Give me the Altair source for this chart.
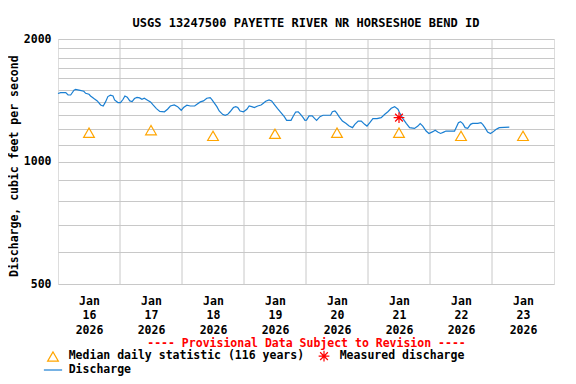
import altair as alt
import pandas as pd

# ---- data ----
hours = [0, 1, 3, 3.9, 4.9, 6.2, 6.8, 8.1, 10, 10.7, 12, 12.6, 13.9, 15.2, 16.5, 17.5, 18.4, 19.3,
         20.3, 21.3, 21.9, 23.2, 24.2, 25.2, 25.9, 26.8, 27.8, 28.7, 29.6, 30.6, 31.6, 32.5, 33.4,
         34.5, 35.8, 36.8, 38.1, 39.4, 41.2, 42.4, 43.5, 45.0, 46.3, 47.3, 47.7, 48.6, 49.9, 51.2,
         52.9, 53.8, 55.1, 56.3, 57.6, 58.9, 59.5, 60.6, 61.5, 62.4, 63.7, 64.7, 65.7, 66.6, 67.9,
         68.8, 69.6, 70.5, 71.8, 73.1, 74.0, 75.0, 76.0, 77.3, 78.6, 79.5, 80.4, 81.7, 82.7, 83.7,
         85.0, 86.3, 87.6, 88.5, 90.2, 91.1, 92.0, 93.0, 93.9, 94.9, 95.6, 96.2, 97.2, 98.4, 99.4,
         100.1, 101.4, 102.6, 105.5, 106.2, 107.2, 107.8, 108.8, 110.1, 111.4, 112.7, 114.0, 114.9,
         116.2, 117.4, 118.7, 119.6, 120.7, 121.9, 123.5, 125.1, 126.5, 127.7, 129.0, 130.3, 131.6,
         132.2, 133.5, 134.8, 136.1, 138.0, 139.3, 140.2, 141.2, 142.5, 143.6, 145.1, 146.0, 147.0,
         148.1, 149.3, 150.2, 153.5, 154.1, 155.0, 155.8, 156.7, 157.6, 158.6, 159.7, 160.5, 162.5,
         163.7, 164.4, 165.3, 166.3, 167.4, 168.3, 169.5, 170.8, 174.7]
flows = [1469, 1477, 1477, 1457, 1457, 1497, 1503, 1497, 1488, 1471, 1463, 1449, 1428, 1409, 1377,
         1369, 1401, 1444, 1455, 1449, 1417, 1396, 1396, 1422, 1449, 1439, 1409, 1404, 1428, 1437,
         1433, 1422, 1430, 1417, 1401, 1377, 1349, 1328, 1325, 1344, 1369, 1377, 1364, 1344, 1336,
         1357, 1375, 1369, 1369, 1382, 1401, 1409, 1430, 1436, 1422, 1390, 1364, 1331, 1306, 1299,
         1306, 1325, 1357, 1364, 1357, 1331, 1325, 1344, 1369, 1364, 1357, 1369, 1377, 1390, 1406,
         1417, 1409, 1382, 1349, 1319, 1289, 1262, 1262, 1294, 1323, 1325, 1306, 1282, 1262, 1264,
         1294, 1294, 1275, 1262, 1289, 1299, 1299, 1325, 1331, 1319, 1289, 1257, 1241, 1222, 1211,
         1234, 1257, 1257, 1234, 1222, 1246, 1275, 1275, 1282, 1306, 1325, 1351, 1364, 1344, 1319,
         1275, 1241, 1211, 1206, 1222, 1239, 1222, 1188, 1172, 1184, 1193, 1181, 1172, 1181, 1188,
         1188, 1211, 1246, 1253, 1239, 1211, 1206, 1234, 1241, 1241, 1246, 1234, 1211, 1181, 1172,
         1181, 1199, 1211, 1215]

median_days = [16, 17, 18, 19, 20, 21, 22, 23]
median_values = [1177, 1194, 1156, 1170, 1177, 1177, 1156, 1156]
measured_hours = [132]
measured_values = [1282]

label_days = [16, 17, 18, 19, 20, 21, 22, 23]
grid_days = [17, 18, 19, 20, 21, 22, 23]
y_grid_values = [500, 600, 700, 800, 900, 1000, 1100, 1200, 1300, 1400, 1500, 1600, 1700, 1800, 1900, 2000]
y_label_values = [500, 1000, 2000]

# legend order (laid out column by column in two columns)
series = ["Median daily statistic (116 years)", "Discharge", "Measured discharge"]
series_colors = ["#ffa500", "#1a7fd2", "#ff0000"]
ASTERISK = "M0,-1L0,1M-1,0L1,0M-0.72,-0.72L0.72,0.72M-0.72,0.72L0.72,-0.72"
LINE = "M-1.7,0L1.7,0"
series_shapes = ["triangle-up", LINE, ASTERISK]

FONT = "DejaVu Sans Mono"
base = pd.Timestamp("2026-01-16")

line_df = pd.DataFrame({"t": base + pd.to_timedelta(hours, unit="h"), "v": flows})
pts_df = pd.DataFrame({
    "t": [base + pd.Timedelta(days=d - 16, hours=12) for d in median_days]
         + list(base + pd.to_timedelta(measured_hours, unit="h")),
    "v": median_values + measured_values,
    "series": [series[0]] * len(median_days) + [series[2]] * len(measured_values),
})
grid_df = pd.DataFrame({"t": [base + pd.Timedelta(days=d - 16) for d in grid_days]})

label_js = "[" + ",".join(str(d) for d in y_label_values) + "]"

x_scale = alt.Scale(domain=[alt.DateTime(year=2026, month=1, date=16),
                            alt.DateTime(year=2026, month=1, date=24)])
x_axis = alt.Axis(
    values=[alt.DateTime(year=2026, month=1, date=d, hours=12) for d in label_days],
    labelExpr="[timeFormat(datum.value, '%b'), timeFormat(datum.value, '%d'), timeFormat(datum.value, '%Y')]",
    grid=False, ticks=False, domain=False, labelFlush=False, labelOverlap=False,
    labelBaseline="top", labelPadding=11, labelLineHeight=14.5,
    labelFont=FONT, labelFontSize=11.5, labelFontWeight="bold", labelColor="black",
    title="---- Provisional Data Subject to Revision ----",
    titleColor="#ff0000", titleFont=FONT, titleFontSize=11.5, titleFontWeight="bold",
    titleY=59, titleBaseline="middle",
)
y_scale = alt.Scale(type="log", domain=[500, 2000], nice=False)
y_axis = alt.Axis(
    values=y_grid_values,
    labelExpr=f"indexof({label_js}, datum.value) >= 0 ? format(datum.value, 'd') : ''",
    grid=True, gridColor="#c8c8c8", gridWidth=1, ticks=False, domain=False,
    labelFont=FONT, labelFontSize=11.5, labelFontWeight="bold", labelColor="black", labelPadding=7,
    title="Discharge, cubic feet per second",
    titleFont=FONT, titleFontSize=11.5, titleFontWeight="bold", titleColor="black",
    titleAngle=270, titleX=-44, titleY=126.7, titleBaseline="middle", titleAlign="center",
)

X = alt.X("t:T", scale=x_scale, axis=x_axis)
Y = alt.Y("v:Q", scale=y_scale, axis=y_axis)

rules = alt.Chart(grid_df).mark_rule(color="#c8c8c8", strokeWidth=1).encode(x=X)
line = alt.Chart(line_df).mark_line(color="#1a7fd2", strokeWidth=1.2).encode(x=X, y=Y)

legend = alt.Legend(
    orient="none", legendX=-11, legendY=311, columns=2, title=None, padding=0,
    labelFont=FONT, labelFontSize=11.5, labelFontWeight="bold", labelColor="black",
    labelLimit=400, labelOffset=9.7, symbolSize=115, symbolStrokeWidth=1.2,
    columnPadding=11, rowPadding=0,
)
points = alt.Chart(pts_df).mark_point(filled=False, size=115, strokeWidth=1.2, opacity=1).encode(
    x=X, y=Y,
    color=alt.Color("series:N", scale=alt.Scale(domain=series, range=series_colors), legend=legend),
    shape=alt.Shape("series:N", scale=alt.Scale(domain=series, range=series_shapes), legend=legend),
)

chart = alt.layer(rules, line, points).properties(
    width=496, height=245,
    title=alt.TitleParams("USGS 13247500 PAYETTE RIVER NR HORSESHOE BEND ID",
                          font=FONT, fontSize=12, fontWeight="bold", color="black",
                          anchor="middle", offset=3),
    autosize=alt.AutoSizeParams(type="none"),
    padding={"left": 50, "top": 31, "right": 14, "bottom": 92},
).configure_view(stroke="black", strokeWidth=1.5).configure(background="white")

chart.save("out.html", embed_options={"renderer": "svg", "actions": False})
